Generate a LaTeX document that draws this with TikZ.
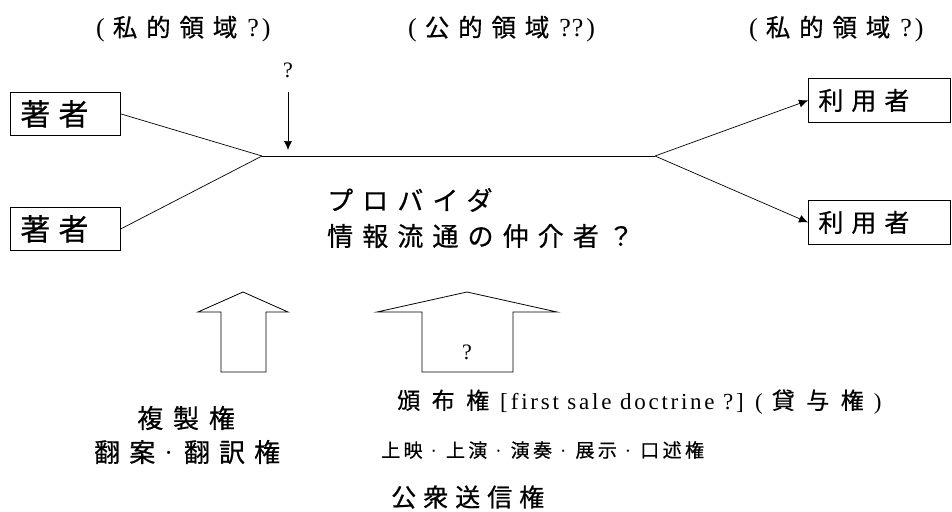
\documentclass[tikz,border=0pt]{standalone}
\usepackage{fontspec}
\newfontfamily\jp{Noto Sans CJK JP}[FakeBold=0.6]
\newfontfamily\se{Liberation Serif}
\usetikzlibrary{arrows.meta}
\newcommand\fs[1]{\fontsize{#1}{#1}\selectfont}
\newcommand\cj[1]{\jp\addfontfeatures{LetterSpace=#1}}
\newcommand\sr[1]{\se\addfontfeatures{LetterSpace=#1}}
\newcommand\dt{\hspace{8pt}{\se·}\hspace{9pt}}
\tikzset{
  lbl/.style={anchor=west, inner sep=0pt},
  blbl/.style={anchor=base west, inner sep=0pt},
  boxn/.style={draw, line width=0.8pt, anchor=north west, inner xsep=10pt, inner ysep=0pt, align=left},
  ln/.style={line width=0.7pt},
  arr/.style={line width=0.7pt, -{Latex[length=9pt,width=8pt]}},
  uparr/.style={line width=0.8pt, line join=miter}
}
\begin{document}
\begin{tikzpicture}[x=1pt,y=-1pt]
\useasboundingbox (0,0) rectangle (952,511);
% top labels
\node[blbl] (t1) at (96,36.5) {\fs{26}\se(\hspace{8pt}\fs{24.5}\cj{36}私的領域\fs{26}\se\hspace{10pt}?\hspace{3pt})};
\node[blbl] (t2) at (408,36.5) {\fs{26}\se(\hspace{8pt}\fs{24.5}\cj{36}公的領域\fs{26}\se\hspace{10pt}?\hspace{1pt}?\hspace{3pt})};
\node[blbl] (t3) at (749,36.5) {\fs{26}\se(\hspace{8pt}\fs{24.5}\cj{36}私的領域\fs{26}\se\hspace{10pt}?\hspace{3pt})};
% authors
\node[boxn, minimum width=110pt, minimum height=43pt, text width=90pt] (a1) at (10,92) {\fs{30}\cj{27}著者};
\node[boxn, minimum width=110pt, minimum height=43pt, text width=90pt] (a2) at (10,207) {\fs{30}\cj{27}著者};
% users
\node[boxn, minimum width=142pt, minimum height=44pt, text width=122pt] (u1) at (808,78) {\fs{25}\cj{32}利用者};
\node[boxn, minimum width=142pt, minimum height=44pt, text width=122pt] (u2) at (808,200) {\fs{25}\cj{32}利用者};
% junctions
\coordinate (j1) at (262,156);
\coordinate (j2) at (655,156);
\draw[ln] (a1.east) -- (j1);
\draw[ln] (a2.east) -- (j1);
\draw[ln] (j1) -- (j2);
\draw[arr] (j2) -- (u1.west);
\draw[arr] (j2) -- (u2.west);
% question arrow
\node[inner sep=0pt] (q1) at (288,70) {\fs{22}\se ?};
\coordinate (qa) at (288,92);
\coordinate (qb) at (288,150);
\draw[arr] (qa) -- (qb);
% provider text
\node[lbl] (p1) at (327,200) {\fs{26}\cj{35}プロバイダ};
\node[lbl] (p2) at (327,236) {\fs{26}\cj{35}情報流通の仲介者？};
% up arrows
\draw[uparr] (221,372) -- (221,312) -- (198,312) -- (243,292) -- (288,312) -- (266,312) -- (266,372) -- cycle;
\draw[uparr] (422,372) -- (422,312) -- (377,312) -- (467,292) -- (557,312) -- (513,312) -- (513,372) -- cycle;
\node[inner sep=0pt] (q2) at (467,352) {\fs{22}\se ?};
% bottom labels
\node[lbl] (b1) at (137,418) {\fs{26}\cj{38}複製権};
\node[lbl] (b2) at (94,452) {\fs{26}\cj{35}翻案\hspace{9pt}\se·\hspace{11pt}\cj{35}翻訳権};
\node[blbl] (c1) at (397,409) {\fs{23}\cj{50}頒布権\hspace{11pt}\sr{12}[\hspace{3pt}first sale doctrine ?] (\hspace{9pt}\cj{50}貸与権\hspace{10pt}\sr{12})};
\node[lbl] (c2) at (381,450) {\fs{19}\cj{18}上映\dt 上演\dt 演奏\dt 展示\dt 口述権};
\node[lbl] (c3) at (391,497) {\fs{25}\cj{28}公衆送信権};
\end{tikzpicture}
\end{document}
